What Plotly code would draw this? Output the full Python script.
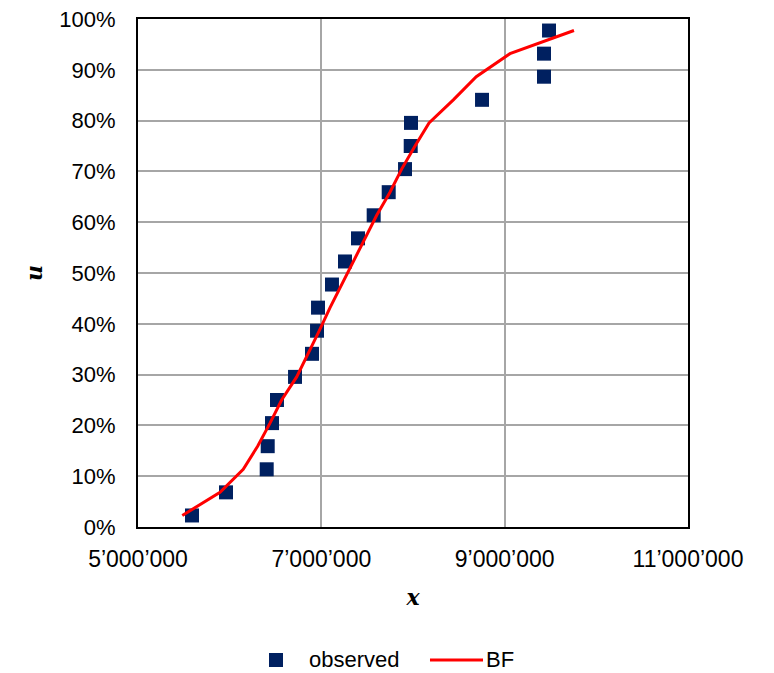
import plotly.graph_objects as go

# Observed sample (x) with plotting positions (u)
obs_x = [5589000, 5960000, 6404000, 6415000, 6462000, 6516000, 6713000, 6898000,
         6953000, 6964000, 7116000, 7258000, 7400000, 7571000, 7735000, 7913000,
         7975000, 7978000, 8753000, 9429000, 9429000, 9484000]
obs_u = [0.0227, 0.0682, 0.1136, 0.1591, 0.2045, 0.2500, 0.2955, 0.3409,
         0.3864, 0.4318, 0.4773, 0.5227, 0.5682, 0.6136, 0.6591, 0.7045,
         0.7500, 0.7955, 0.8409, 0.8864, 0.9318, 0.9773]

# Best-fit distribution curve
bf_x = [5483000, 5895000, 6148000, 6305000, 6440000, 6567000, 6731000, 6858000,
        6978000, 7095000, 7222000, 7349000, 7469000, 7604000, 7749000, 7876000,
        8022000, 8175000, 8440000, 8690000, 9058000, 9756000]
bf_u = obs_u

x_tickvals = [5000000, 7000000, 9000000, 11000000]
x_ticktext = ["5’000’000", "7’000’000", "9’000’000", "11’000’000"]

MARKER_COLOR = "#002060"
LINE_COLOR = "#FF0000"

tick_font = dict(family="Liberation Sans, Arial", size=22, color="#000000")
title_font = dict(family="DejaVu Serif", size=22, color="#000000")
legend_font = dict(family="Liberation Sans, Arial", size=22, color="#000000")

fig = go.Figure()
fig.add_trace(go.Scatter(
    x=obs_x, y=obs_u, mode="markers", name="observed",
    marker=dict(symbol="square", size=14, color=MARKER_COLOR),
))
fig.add_trace(go.Scatter(
    x=bf_x, y=bf_u, mode="lines", name="BF",
    line=dict(color=LINE_COLOR, width=3),
))

# Legend row below the x-axis title, drawn in paper coordinates
LEG_Y = -0.2618
fig.add_shape(type="rect", xref="paper", yref="paper",
              x0=0.2382, x1=0.2636, y0=LEG_Y - 0.0138, y1=LEG_Y + 0.0138,
              fillcolor=MARKER_COLOR, line=dict(width=0))
fig.add_shape(type="line", xref="paper", yref="paper",
              x0=0.5309, x1=0.6273, y0=LEG_Y, y1=LEG_Y,
              line=dict(color=LINE_COLOR, width=3))
fig.add_annotation(text="observed", xref="paper", yref="paper",
                   x=0.3091, y=LEG_Y, xanchor="left", yanchor="middle",
                   showarrow=False, font=legend_font, borderpad=0)
fig.add_annotation(text="BF", xref="paper", yref="paper",
                   x=0.6309, y=LEG_Y, xanchor="left", yanchor="middle",
                   showarrow=False, font=legend_font, borderpad=0)

fig.update_layout(
    width=774, height=673,
    margin=dict(l=138, r=86, t=19, b=146, autoexpand=False),
    paper_bgcolor="white", plot_bgcolor="white",
    showlegend=False,
    xaxis=dict(
        range=[5000000, 11000000], automargin=False,
        tickvals=x_tickvals, ticktext=x_ticktext,
        showgrid=True, gridcolor="#A6A6A6", gridwidth=2,
        showline=True, linecolor="#000000", linewidth=2, mirror=True,
        ticks="outside", ticklen=10, tickcolor="rgba(0,0,0,0)",
        tickfont=dict(tick_font, size=23), zeroline=False,
        title=dict(text="<b><i>x</i></b>", font=title_font, standoff=19),
    ),
    yaxis=dict(
        range=[0, 1], dtick=0.1, tickformat=".0%", automargin=False,
        showgrid=True, gridcolor="#A6A6A6", gridwidth=2,
        showline=True, linecolor="#000000", linewidth=2, mirror=True,
        ticks="outside", ticklen=16, tickcolor="rgba(0,0,0,0)",
        tickfont=tick_font, zeroline=False,
        title=dict(text="<b><i>u</i></b>", font=title_font, standoff=11),
    ),
)

fig.write_html("out.html")
